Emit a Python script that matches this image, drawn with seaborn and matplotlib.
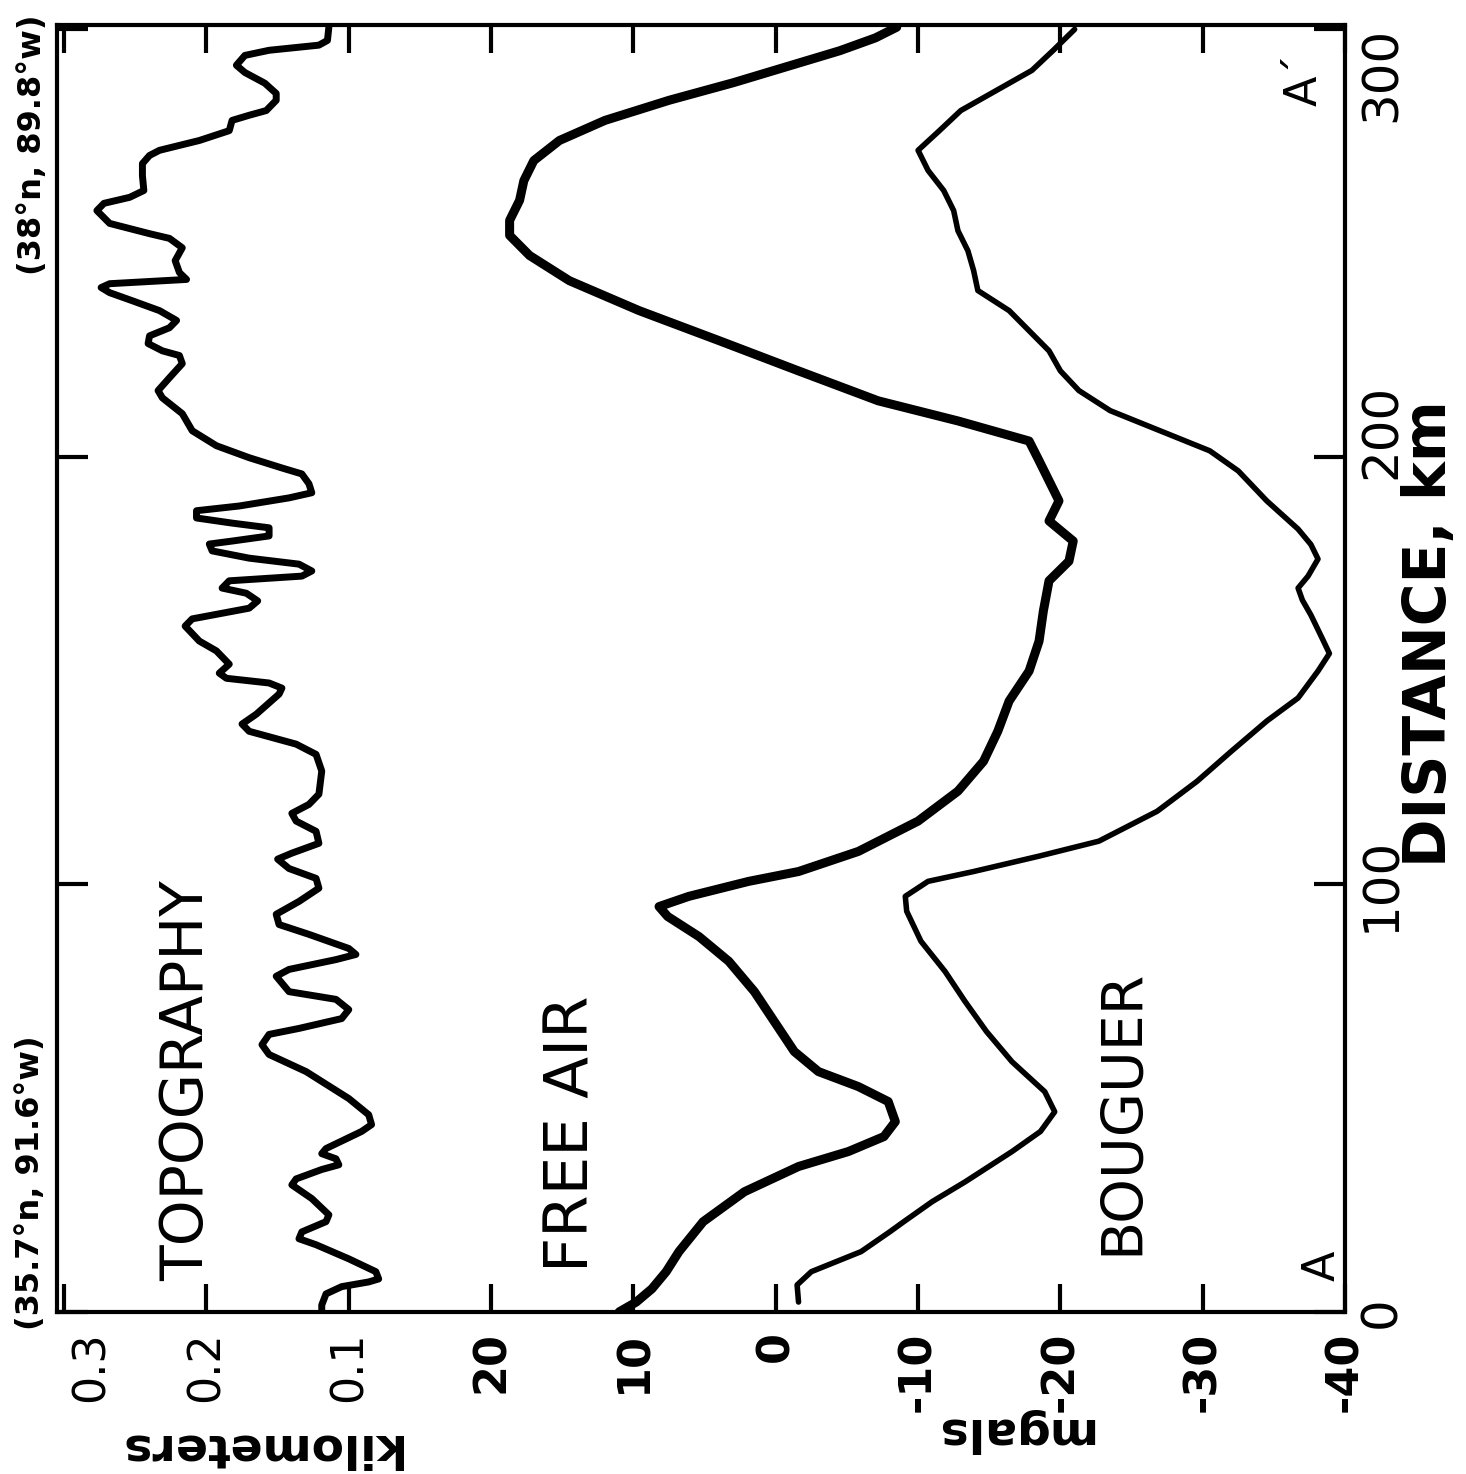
import matplotlib
matplotlib.use("Agg")
import matplotlib.pyplot as plt
from matplotlib.transforms import ScaledTranslation
import numpy as np
import seaborn as sns

# profile A - A'
# topography: distance (km) and elevation (km)
topo_dist = [0, 1.6, 4.2, 5.9, 7.0, 7.7, 9.4, 12.4, 15.7, 17.1, 18.7, 21.1, 22.7,
             26.5, 29.7, 31.1, 33.3, 34.4, 35.8, 37.0, 38.2, 42.2, 43.8, 46.1, 49.9,
             56.2, 60.2, 62.5, 64.9, 66.3, 68.6, 70.7, 73.1, 74.9, 78.5, 80.1, 82.4,
             83.6, 85.0, 88.3, 90.6, 93.0, 96.0, 99.1, 101.4, 103.7, 105.9, 107.3,
             109.6, 112.4, 114.8, 116.6, 118.7, 121.1, 126.5, 130.4, 132.8, 135.8,
             137.5, 139.8, 144.5, 145.9, 147.1, 148.2, 149.4, 151.5, 154.6, 156.9,
             160.4, 162.1, 164.6, 166.3, 168.1, 169.3, 171.0, 172.1, 173.3, 174.9,
             176.3, 178.0, 179.6, 180.3, 181.5, 183.4, 184.5, 185.7, 187.4, 188.5,
             190.4, 191.6, 193.7, 196.0, 197.4, 199.8, 202.6, 206.1, 210.1, 213.8,
             215.5, 218.5, 221.8, 223.7, 224.8, 226.5, 228.3, 230.2, 231.9, 234.2,
             236.5, 238.4, 239.6, 240.5, 241.5, 243.1, 245.9, 248.9, 251.1, 252.2,
             254.6, 257.6, 259.3, 260.7, 262.3, 265.8, 268.6, 270.5, 271.7, 274.0,
             276.3, 278.7, 279.9, 281.0, 283.4, 285.0, 287.4, 289.9, 291.6, 293.9,
             295.1, 296.3, 297.4, 300.5]
topo_km = [0.119, 0.119, 0.116, 0.105, 0.086, 0.079, 0.081, 0.100, 0.123, 0.135,
           0.133, 0.116, 0.114, 0.126, 0.140, 0.137, 0.119, 0.107, 0.109, 0.119,
           0.116, 0.091, 0.084, 0.086, 0.100, 0.130, 0.156, 0.161, 0.156, 0.135,
           0.105, 0.100, 0.109, 0.142, 0.151, 0.142, 0.109, 0.095, 0.100, 0.128,
           0.149, 0.151, 0.135, 0.121, 0.123, 0.142, 0.150, 0.140, 0.121, 0.123,
           0.137, 0.140, 0.128, 0.121, 0.119, 0.123, 0.137, 0.170, 0.175, 0.165,
           0.149, 0.147, 0.156, 0.186, 0.191, 0.184, 0.193, 0.205, 0.215, 0.210,
           0.170, 0.164, 0.172, 0.189, 0.184, 0.133, 0.126, 0.135, 0.170, 0.196,
           0.198, 0.182, 0.156, 0.156, 0.182, 0.207, 0.207, 0.177, 0.142, 0.126,
           0.128, 0.133, 0.147, 0.170, 0.193, 0.210, 0.217, 0.231, 0.234, 0.226,
           0.217, 0.219, 0.231, 0.241, 0.240, 0.226, 0.221, 0.233, 0.252, 0.268,
           0.274, 0.268, 0.214, 0.219, 0.222, 0.217, 0.226, 0.240, 0.268, 0.277,
           0.272, 0.254, 0.244, 0.245, 0.245, 0.240, 0.233, 0.205, 0.184, 0.182,
           0.170, 0.158, 0.151, 0.151, 0.159, 0.173, 0.179, 0.173, 0.156, 0.121,
           0.115, 0.114]

# free air anomaly (mgal)
fa_dist = [0, 2.3, 5.4, 9.4, 14.1, 21.1, 28.1, 34.0, 37.5, 41.0, 44.5, 49.2, 52.7,
           56.2, 60.9, 67.9, 74.9, 82.0, 87.8, 92.5, 94.8, 97.2, 100.7, 103.0, 107.7,
           114.8, 121.8, 128.8, 135.8, 142.9, 149.9, 156.9, 163.9, 171.0, 175.6,
           180.3, 185.0, 189.7, 194.4, 199.1, 203.7, 208.4, 213.1, 220.1, 227.2,
           234.2, 241.2, 247.1, 251.8, 255.3, 260.0, 264.6, 269.3, 274.0, 278.7,
           283.4, 287.5, 291.5, 295.0, 298.0, 300.5]
fa_mgal = [11.0, 9.8, 8.7, 7.7, 6.8, 5.1, 2.2, -1.6, -5.1, -7.6, -8.4, -7.9, -5.8,
           -3.0, -1.3, 0.1, 1.5, 3.3, 5.4, 7.6, 8.2, 6.1, 1.9, -1.6, -5.8, -10.0,
           -12.8, -14.6, -15.6, -16.4, -17.8, -18.5, -18.8, -19.2, -20.6, -20.9,
           -19.2, -19.9, -19.2, -18.5, -17.8, -12.8, -7.2, -1.6, 4.0, 9.6, 14.5,
           17.3, 18.7, 18.7, 18.0, 17.7, 17.0, 15.2, 12.0, 7.5, 3.0, -1.0, -4.5,
           -7.0, -8.5]

# bouguer anomaly (mgal)
bg_dist = [2.3, 6.3, 9.4, 14.1, 18.7, 21.1, 25.8, 30.4, 37.5, 42.2, 46.8, 51.5,
           58.5, 65.6, 72.6, 79.6, 86.7, 93.7, 97.2, 100.7, 103.0, 106.6, 110.1,
           117.1, 124.1, 131.1, 138.2, 143.6, 149.9, 154.0, 157.5, 163.0, 166.5,
           169.3, 172.1, 176.1, 179.5, 183.1, 189.7, 196.7, 201.4, 206.1, 210.8,
           215.5, 220.1, 224.8, 229.5, 234.2, 238.9, 243.6, 248.2, 252.9, 257.6,
           262.3, 267.0, 271.7, 276.3, 281.0, 285.7, 290.4, 295.1, 300.0]
bg_mgal = [-1.6, -1.5, -2.5, -6.0, -8.0, -9.0, -11.0, -13.3, -16.6, -18.6, -19.6,
           -18.9, -16.6, -14.8, -13.3, -11.9, -10.2, -9.2, -9.1, -10.7, -13.9, -18.5,
           -22.7, -26.8, -29.6, -32.0, -34.5, -36.7, -38.1, -38.9, -38.4, -37.6,
           -37.0, -36.7, -37.4, -38.1, -37.6, -36.7, -34.5, -32.5, -30.5, -27.0,
           -23.5, -21.3, -20.0, -19.2, -17.8, -16.4, -14.2, -13.9, -13.5, -12.8,
           -12.5, -11.8, -10.7, -10.0, -11.5, -13.0, -15.5, -18.0, -19.5, -21.0]

# one shared horizontal scale: 0.1 km of topography = 10 mgal, 0 km sits at 20 mgal
tick_pos = [50, 40, 30, 20, 10, 0, -10, -20, -30, -40]
tick_txt = ["0.3", "0.2", "0.1", "20", "10", "0", "-10", "-20", "-30", "-40"]
dist_ticks = [0, 100, 200, 300]

sns.set_theme(style="white")
plt.rcParams["font.family"] = ["DejaVu Sans"]
plt.rcParams["text.color"] = "black"
plt.rcParams["xtick.color"] = "black"
plt.rcParams["ytick.color"] = "black"
plt.rcParams["xtick.labelcolor"] = "black"
plt.rcParams["ytick.labelcolor"] = "black"

fig = plt.figure(figsize=(14.66, 14.74), dpi=100)
ax = fig.add_axes([0.0389, 0.110, 0.8786, 0.873])

topo_plot = 20 + 100 * np.array(topo_km)
sns.lineplot(x=topo_plot, y=topo_dist, orient="y", sort=False, estimator=None,
             color="black", lw=5, ax=ax)
sns.lineplot(x=fa_mgal, y=fa_dist, orient="y", sort=False, estimator=None,
             color="black", lw=6.5, ax=ax)
sns.lineplot(x=bg_mgal, y=bg_dist, orient="y", sort=False, estimator=None,
             color="black", lw=4, ax=ax)

ax.set_xlim(50.5, -40)
ax.set_ylim(0, 301)
ax.set_xlabel("")
ax.set_ylabel("")

for s in ax.spines.values():
    s.set_linewidth(3)
    s.set_color("black")

ax.set_xticks(tick_pos)
ax.set_xticklabels(tick_txt)
ax.tick_params(axis="x", direction="in", length=20, width=3, top=True, bottom=True,
               labelsize=32, pad=14, labelrotation=90, color="black",
               labelcolor="black")
ax.set_yticks(dist_ticks)
ax.set_yticklabels([str(v) for v in dist_ticks])
ax.tick_params(axis="y", direction="in", length=22, width=3, left=True, right=True,
               labelleft=False, labelright=True, labelsize=36, pad=9,
               labelrotation=90, color="black", labelcolor="black")
for lab in ax.get_yticklabels():
    lab.set_verticalalignment("center")

# mgal numbers are bold, km numbers are not
for lab, txt in zip(ax.get_xticklabels(), tick_txt):
    if not txt.startswith("0."):
        lab.set_fontweight("bold")
xl = ax.get_xticklabels()
xl[0].set_transform(xl[0].get_transform() + ScaledTranslation(0.27, 0, fig.dpi_scale_trans))
yl = ax.get_yticklabels()
yl[-1].set_transform(yl[-1].get_transform() + ScaledTranslation(0, -0.45, fig.dpi_scale_trans))
yl[-2].set_transform(yl[-2].get_transform() + ScaledTranslation(0, 0.25, fig.dpi_scale_trans))

# curve names and end points
ax.text(0.101, 0.024, "TOPOGRAPHY", rotation=90, ha="center", va="bottom",
        fontsize=42, transform=ax.transAxes)
ax.text(0.400, 0.031, "FREE AIR", rotation=90, ha="center", va="bottom",
        fontsize=44, transform=ax.transAxes)
ax.text(0.827, 0.044, "BOUGUER", rotation=90, ha="center", va="bottom",
        fontsize=41, transform=ax.transAxes)
ax.text(0.982, 0.036, "A", rotation=90, ha="center", va="center",
        fontsize=32, transform=ax.transAxes)
ax.text(0.968, 0.978, "A\u00b4", rotation=90, ha="center", va="top",
        fontsize=32, transform=ax.transAxes)

# axis titles, all in the sideways layout of the original page
fig.text(0.0205, 0.0977, "(35.7\u00b0n, 91.6\u00b0w)", rotation=90, ha="center",
         va="bottom", fontsize=23, fontweight="bold")
fig.text(0.0225, 0.99, "(38\u00b0n, 89.8\u00b0w)", rotation=90, ha="center",
         va="top", fontsize=23, fontweight="bold")
fig.text(0.9754, 0.4118, "DISTANCE, km", rotation=90, ha="center", va="bottom",
         fontsize=42, fontweight="bold")
fig.text(258 / 1466, 1 - 1447 / 1474, "kilometers", rotation=180, ha="center",
         va="center", fontsize=34, fontweight="bold")
fig.text(1012 / 1466, 1 - 1430 / 1474, "mgals", rotation=180, ha="center",
         va="center", fontsize=34, fontweight="bold")

fig.savefig("out.png", dpi=100, facecolor="white")
